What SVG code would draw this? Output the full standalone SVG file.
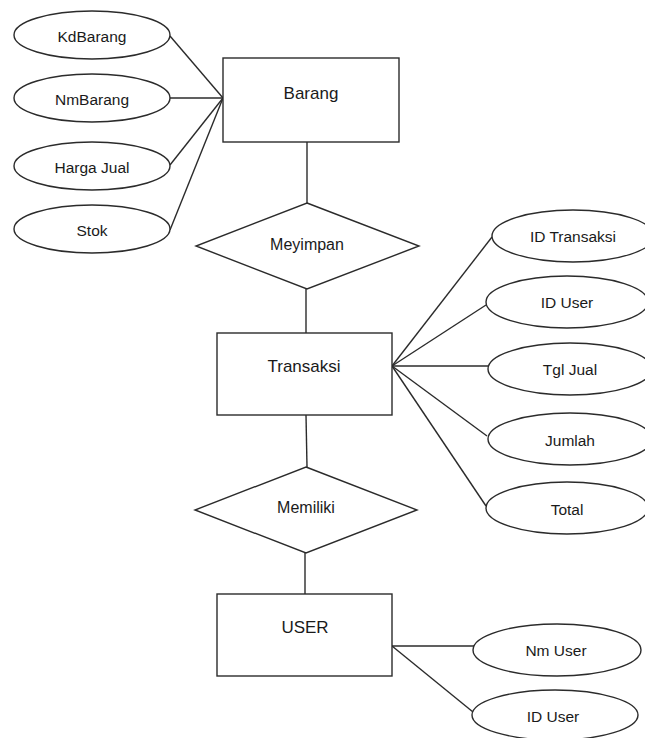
<svg xmlns="http://www.w3.org/2000/svg" width="645" height="738" viewBox="0 0 645 738">
<style>
.s{fill:#fff;stroke:#2b2b2b;stroke-width:1.4}
.c line{stroke:#2b2b2b;stroke-width:1.4}
text{font-family:"Liberation Sans",Arial,sans-serif;fill:#1a1a1a;text-anchor:middle;dominant-baseline:central}
.a{font-size:15.5px}
.e{font-size:17px}
.r{font-size:16px}
</style>
<rect width="645" height="738" fill="#fff"/>
<g class="c" id="connectors">
<line x1="170" y1="36" x2="223" y2="98"/>
<line x1="170" y1="98" x2="223" y2="98"/>
<line x1="170" y1="165" x2="223" y2="98"/>
<line x1="170" y1="230" x2="223" y2="98"/>
<line x1="307" y1="142" x2="307" y2="203"/>
<line x1="306" y1="289" x2="306" y2="333"/>
<line x1="392" y1="366" x2="492" y2="237"/>
<line x1="392" y1="366" x2="486" y2="305"/>
<line x1="392" y1="366" x2="488" y2="366"/>
<line x1="392" y1="366" x2="487" y2="436"/>
<line x1="392" y1="366" x2="486" y2="506"/>
<line x1="306" y1="415" x2="307" y2="467"/>
<line x1="305" y1="553" x2="305" y2="594"/>
<line x1="392" y1="646" x2="474" y2="646"/>
<line x1="392" y1="646" x2="473" y2="712"/>
</g>
<g id="KdBarang"><ellipse class="s" cx="92" cy="35" rx="78" ry="24"/><text class="a" x="92" y="36">KdBarang</text></g>
<g id="NmBarang"><ellipse class="s" cx="92" cy="98" rx="78" ry="24"/><text class="a" x="92" y="99">NmBarang</text></g>
<g id="HargaJual"><ellipse class="s" cx="92" cy="166" rx="78" ry="24"/><text class="a" x="92" y="167">Harga Jual</text></g>
<g id="Stok"><ellipse class="s" cx="92" cy="229" rx="78" ry="24"/><text class="a" x="92" y="230">Stok</text></g>
<g id="Barang"><rect class="s" x="223" y="58" width="176" height="84"/><text class="e" x="311" y="93">Barang</text></g>
<g id="Meyimpan"><polygon class="s" points="307,203 419,246 307,289 196,246"/><text class="r" x="307" y="244">Meyimpan</text></g>
<g id="Transaksi"><rect class="s" x="217" y="333" width="175" height="82"/><text class="e" x="304" y="366">Transaksi</text></g>
<g id="IDTransaksi"><ellipse class="s" cx="573" cy="236" rx="81" ry="26"/><text class="a" x="573" y="236">ID Transaksi</text></g>
<g id="IDUserT"><ellipse class="s" cx="567" cy="302" rx="81" ry="26"/><text class="a" x="567" y="302">ID User</text></g>
<g id="TglJual"><ellipse class="s" cx="570" cy="369" rx="82" ry="26"/><text class="a" x="570" y="369">Tgl Jual</text></g>
<g id="Jumlah"><ellipse class="s" cx="570" cy="439" rx="82" ry="26"/><text class="a" x="570" y="440">Jumlah</text></g>
<g id="Total"><ellipse class="s" cx="567" cy="508" rx="81" ry="26"/><text class="a" x="567" y="509">Total</text></g>
<g id="Memiliki"><polygon class="s" points="306,467 417,510 306,553 195,510"/><text class="r" x="306" y="507">Memiliki</text></g>
<g id="USER"><rect class="s" x="217" y="594" width="175" height="82"/><text class="e" x="305" y="627">USER</text></g>
<g id="NmUser"><ellipse class="s" cx="557" cy="650" rx="84" ry="26"/><text class="a" x="556" y="650">Nm User</text></g>
<g id="IDUser"><ellipse class="s" cx="555" cy="715" rx="83" ry="25"/><text class="a" x="553" y="716">ID User</text></g>
</svg>
